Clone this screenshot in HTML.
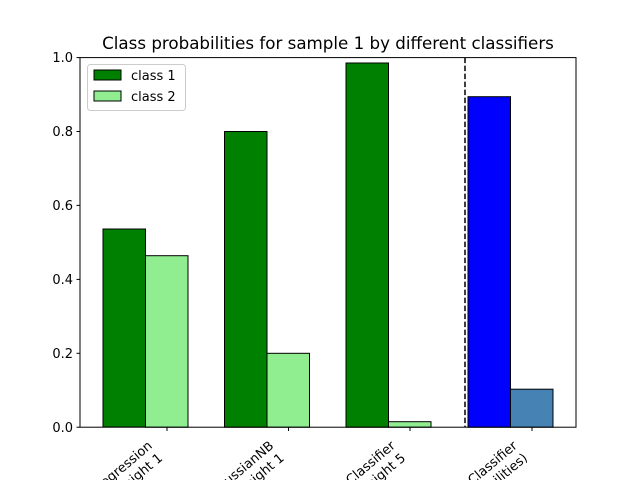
<!DOCTYPE html>
<html><head><meta charset="utf-8"><style>html,body{margin:0;background:#fff;width:640px;height:480px;overflow:hidden}svg{display:block}text{font-family:"DejaVu Sans","Liberation Sans",sans-serif;font-size:13px;fill:#000}</style></head><body>
<svg width="640" height="480" xmlns="http://www.w3.org/2000/svg" overflow="hidden">
<rect width="640" height="480" fill="#fff"/>
<text x="328" y="49" text-anchor="middle" style="font-size:16.7px">Class probabilities for sample 1 by different classifiers</text>
<g stroke="#000" stroke-width="1">
<rect x="103" y="229" width="42.5" height="198" fill="green"/>
<rect x="145.5" y="255.7" width="42.5" height="171.5" fill="#90ee90"/>
<rect x="224.5" y="131.5" width="42.5" height="295.7" fill="green"/>
<rect x="267" y="353.3" width="42.5" height="73.9" fill="#90ee90"/>
<rect x="346" y="63" width="42.5" height="364.2" fill="green"/>
<rect x="388.5" y="421.7" width="42.5" height="5.5" fill="#90ee90"/>
<rect x="468" y="96.7" width="42.5" height="330.5" fill="blue"/>
<rect x="510.5" y="389.2" width="42.5" height="38" fill="steelblue"/>
</g>
<line x1="465" y1="57.6" x2="465" y2="427.2" stroke="#000" stroke-width="1.5" stroke-dasharray="5.5,2.5"/>
<rect x="80" y="57.6" width="496" height="369.6" fill="none" stroke="#000" stroke-width="1"/>
<g stroke="#000">
<line x1="76.5" y1="427.2" x2="80" y2="427.2"/><line x1="76.5" y1="353.3" x2="80" y2="353.3"/><line x1="76.5" y1="279.4" x2="80" y2="279.4"/><line x1="76.5" y1="205.4" x2="80" y2="205.4"/><line x1="76.5" y1="131.5" x2="80" y2="131.5"/><line x1="76.5" y1="57.6" x2="80" y2="57.6"/>
<line x1="167" y1="427.2" x2="167" y2="431"/><line x1="288.5" y1="427.2" x2="288.5" y2="431"/><line x1="410" y1="427.2" x2="410" y2="431"/><line x1="532" y1="427.2" x2="532" y2="431"/>
</g>
<g text-anchor="end">
<text x="73" y="432">0.0</text><text x="73" y="358">0.2</text><text x="73" y="284">0.4</text><text x="73" y="210">0.6</text><text x="73" y="136">0.8</text><text x="73" y="62">1.0</text>
</g>
<g text-anchor="end">
<g transform="translate(153,447) rotate(-40)"><text x="0" y="0">LogisticRegression</text><text x="0" y="16">weight 1</text></g>
<g transform="translate(274.5,447) rotate(-40)"><text x="0" y="0">GaussianNB</text><text x="0" y="16">weight 1</text></g>
<g transform="translate(396,447) rotate(-40)"><text x="0" y="0">RandomForestClassifier</text><text x="0" y="16">weight 5</text></g>
<g transform="translate(518,447) rotate(-40)"><text x="0" y="0">VotingClassifier</text><text x="0" y="16">(average probabilities)</text></g>
</g>
<rect x="87.5" y="64.5" width="98" height="46" rx="3" fill="#fff" stroke="#ccc"/>
<rect x="94" y="70" width="27" height="10" fill="green" stroke="#000"/>
<rect x="94" y="91" width="27" height="10" fill="#90ee90" stroke="#000"/>
<text x="131" y="80">class 1</text>
<text x="131" y="101">class 2</text>
</svg>
</body></html>
